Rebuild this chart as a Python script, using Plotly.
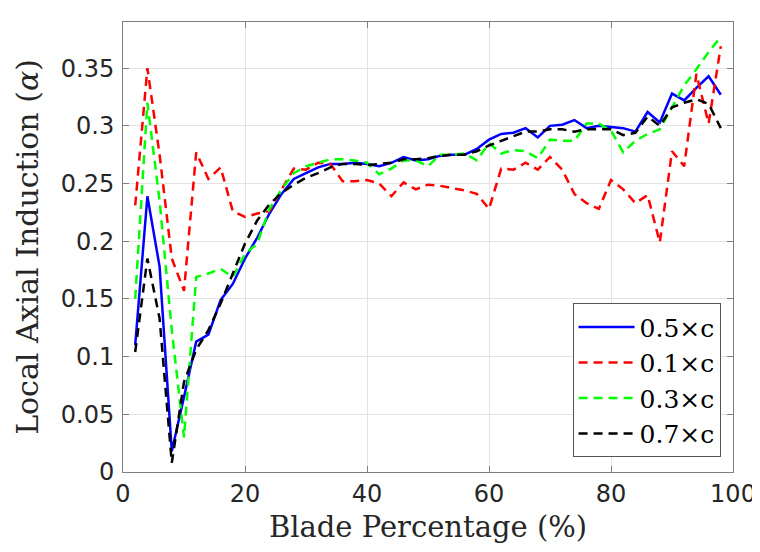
import plotly.graph_objects as go

blade_pct = [2, 4, 6, 8, 10, 12, 14, 16, 18, 20, 22, 24, 26, 28, 30, 32, 34, 36, 38, 40,
             42, 44, 46, 48, 50, 52, 54, 56, 58, 60, 62, 64, 66, 68, 70, 72, 74, 76, 78, 80,
             82, 84, 86, 88, 90, 92, 94, 96, 98]

a_05c = [0.110, 0.239, 0.178, 0.018, 0.065, 0.113, 0.119, 0.149, 0.163, 0.185, 0.203, 0.224, 0.241, 0.254, 0.259, 0.264, 0.267, 0.267, 0.268, 0.267,
         0.265, 0.268, 0.273, 0.270, 0.271, 0.274, 0.275, 0.275, 0.280, 0.288, 0.293, 0.294, 0.298, 0.290, 0.300, 0.301, 0.305, 0.298, 0.300, 0.299,
         0.298, 0.295, 0.312, 0.303, 0.328, 0.322, 0.333, 0.343, 0.327]

a_01c = [0.231, 0.350, 0.275, 0.185, 0.157, 0.277, 0.254, 0.264, 0.226, 0.221, 0.224, 0.226, 0.245, 0.263, 0.262, 0.268, 0.267, 0.252, 0.252, 0.253,
         0.250, 0.239, 0.251, 0.245, 0.249, 0.248, 0.246, 0.244, 0.241, 0.228, 0.263, 0.262, 0.268, 0.262, 0.273, 0.262, 0.241, 0.233, 0.228, 0.253,
         0.245, 0.233, 0.240, 0.199, 0.278, 0.265, 0.345, 0.302, 0.369]

a_03c = [0.150, 0.320, 0.235, 0.123, 0.030, 0.169, 0.172, 0.176, 0.169, 0.189, 0.198, 0.228, 0.245, 0.259, 0.265, 0.268, 0.271, 0.271, 0.270, 0.268,
         0.258, 0.263, 0.270, 0.270, 0.265, 0.275, 0.275, 0.276, 0.270, 0.285, 0.276, 0.279, 0.278, 0.272, 0.288, 0.287, 0.287, 0.302, 0.302, 0.296,
         0.277, 0.287, 0.293, 0.297, 0.316, 0.335, 0.349, 0.364, 0.377]

a_07c = [0.104, 0.185, 0.133, 0.008, 0.078, 0.106, 0.123, 0.146, 0.172, 0.198, 0.218, 0.232, 0.242, 0.249, 0.255, 0.259, 0.264, 0.267, 0.267, 0.266,
         0.267, 0.268, 0.271, 0.271, 0.272, 0.274, 0.275, 0.275, 0.278, 0.283, 0.287, 0.291, 0.295, 0.295, 0.297, 0.297, 0.295, 0.297, 0.297, 0.297,
         0.292, 0.294, 0.308, 0.300, 0.316, 0.320, 0.323, 0.319, 0.298]

series = [
    ("0.5×c", a_05c, "#0000ff", "solid"),
    ("0.1×c", a_01c, "#ff0000", "9px,6px"),
    ("0.3×c", a_03c, "#00ff00", "9px,6px"),
    ("0.7×c", a_07c, "#000000", "9px,6px"),
]

x_ticks = [0, 20, 40, 60, 80, 100]
y_ticks = [0, 0.05, 0.1, 0.15, 0.2, 0.25, 0.3, 0.35]
y_tick_labels = ["0", "0.05", "0.1", "0.15", "0.2", "0.25", "0.3", "0.35"]

fig = go.Figure()
for name, vals, color, dash in series:
    fig.add_trace(go.Scatter(x=blade_pct, y=vals, mode="lines", name=name,
                             line=dict(color=color, width=2.5, dash=dash)))

axis_common = dict(
    showline=True, linecolor="#7f7f7f", linewidth=1, mirror="ticks",
    ticks="inside", ticklen=6, tickcolor="#7f7f7f",
    showgrid=True, gridcolor="#e3e3e3", gridwidth=1, zeroline=False,
    tickfont=dict(family="DejaVu Sans", size=24, color="#262626"),
    automargin=False,
)

fig.update_xaxes(range=[0, 100], tickvals=x_ticks, **axis_common,
                 title=dict(text="Blade Percentage (%)",
                            font=dict(family="DejaVu Serif", size=29, color="#262626"),
                            standoff=9))
fig.update_yaxes(range=[0, 0.39], tickvals=y_ticks, ticktext=y_tick_labels, **axis_common,
                 ticklabelstandoff=3,
                 title=dict(text="Local Axial Induction (<i>α</i>)",
                            font=dict(family="DejaVu Serif", size=30, color="#262626"),
                            standoff=13))

fig.update_layout(
    width=752, height=544,
    margin=dict(l=115, r=27, t=14, b=80),
    plot_bgcolor="white", paper_bgcolor="white",
    legend=dict(x=0.737, y=0.375, xanchor="left", yanchor="top",
                bgcolor="white", bordercolor="#555555", borderwidth=1,
                itemwidth=56,
                font=dict(family="DejaVu Serif", size=25, color="#000000"),
                tracegroupgap=0),
)

fig.write_html("out.html")
